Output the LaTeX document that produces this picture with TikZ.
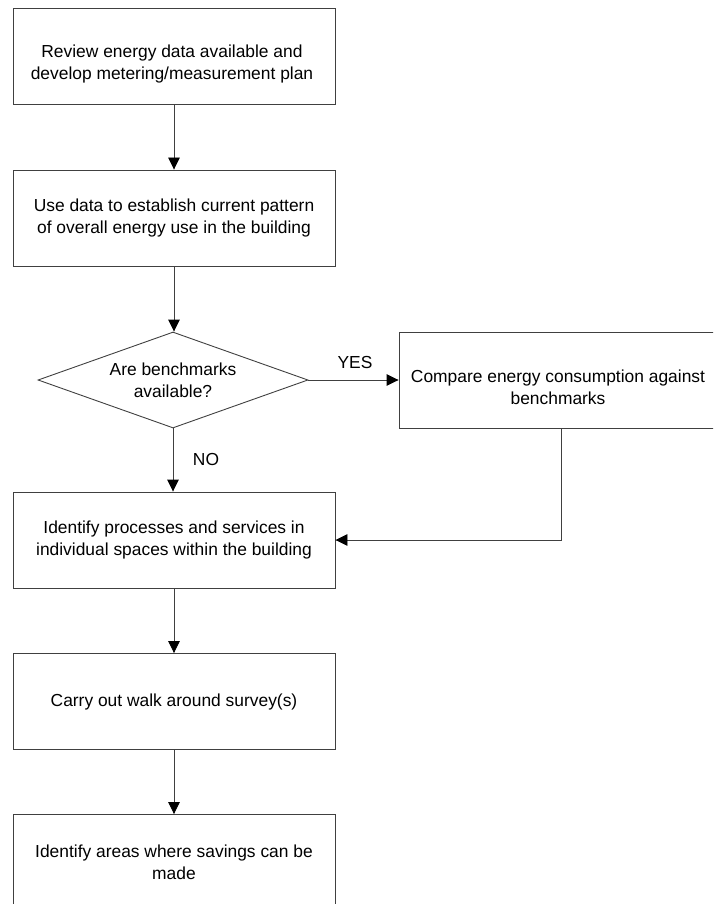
\documentclass[tikz,border=0pt]{standalone}
\usepackage{fontspec}
\setmainfont{Liberation Sans}
\usetikzlibrary{shapes.geometric,arrows.meta}
\begin{document}
\begin{tikzpicture}[x=1pt,y=-1pt,
  every node/.style={font=\fontsize{17.4pt}{22pt}\selectfont, text=black},
  stepbox/.style={draw=black!75, line width=0.9pt, rectangle, minimum width=322pt, minimum height=96pt, inner sep=0pt, align=center},
  txt/.style={align=center, inner sep=0pt},
  decision/.style={draw=black!75, line width=0.9pt, diamond, aspect=2.8, minimum width=270pt, minimum height=96pt, inner sep=0pt, align=center},
  conn/.style={draw=black!75, line width=0.9pt, -{Triangle[width=11.5pt,length=12pt,color=black]}}
]
\useasboundingbox (0,0) rectangle (713,904);
\clip (0,0) rectangle (713,904);

\node[stepbox] (b1) at (174,56.5) {};
\node[txt] (t1) at (172,64) {Review energy data available and\\develop metering/measurement plan};

\node[stepbox] (b2) at (174,218) {Use data to establish current pattern\\of overall energy use in the building};

\node[decision] (d) at (173,380) {Are benchmarks\\available?};

\node[stepbox, minimum width=324pt] (b3) at (561,380) {};
\node[txt] (t3) at (558,387) {Compare energy consumption against\\benchmarks};

\node[stepbox] (b4) at (174,540) {Identify processes and services in\\individual spaces within the building};

\node[stepbox] (b5) at (174,701.5) {Carry out walk around survey(s)};

\node[stepbox] (b6) at (174,862.5) {Identify areas where savings can be\\made};

\draw[conn] (b1.south) -- (b1.south |- b2.north);
\draw[conn] (b2.south) -- (b2.south |- d.north);
\draw[conn] (d.south) -- (d.south |- b4.north);
\draw[conn] (d.east) -- (b3.west);
\draw[conn] (b3.south) |- (b4.east);
\draw[conn] (b4.south) -- (b4.south |- b5.north);
\draw[conn] (b5.south) -- (b5.south |- b6.north);

\node[txt] (yes) at (355,363) {YES};
\node[txt] (no) at (206,460) {NO};
\end{tikzpicture}
\end{document}
